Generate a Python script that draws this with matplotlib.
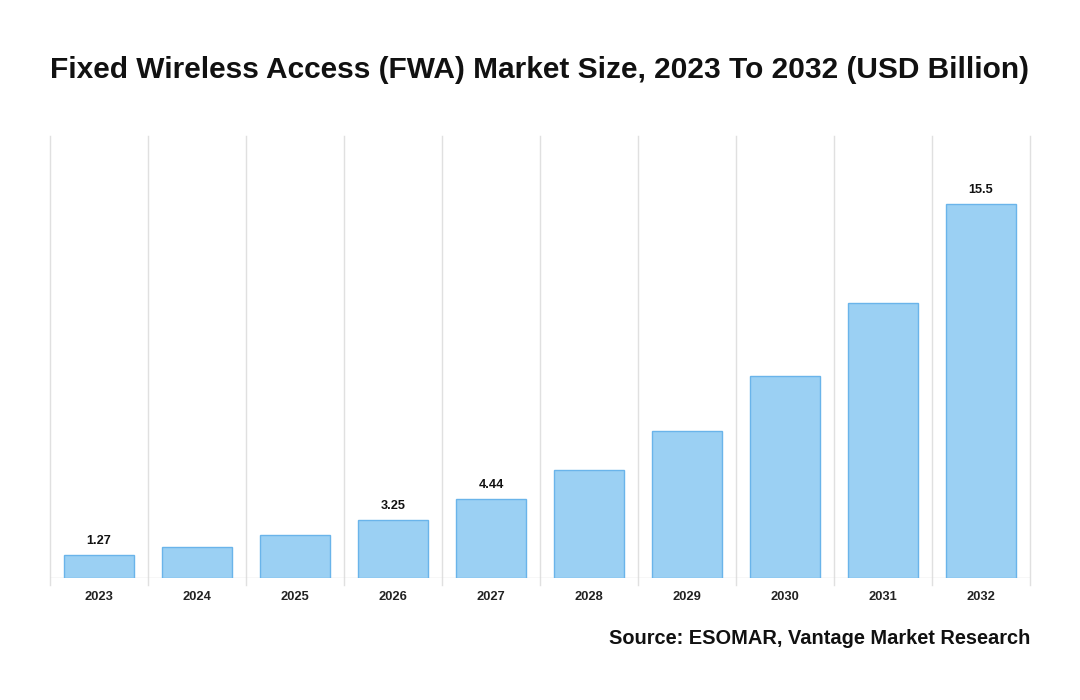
import matplotlib
matplotlib.use("Agg")
import matplotlib.pyplot as plt

years = ["2023", "2024", "2025", "2026", "2027", "2028", "2029", "2030", "2031", "2032"]
# bar heights
sizes = [1.27, 1.70, 2.39, 3.25, 4.44, 6.08, 8.30, 11.36, 15.50, 21.10]
# only some bars carry a value label in the original
value_labels = ["1.27", "", "", "3.25", "4.44", "", "", "", "", "15.5"]

plt.rcParams["font.family"] = ["Liberation Sans", "DejaVu Sans"]

fig = plt.figure(figsize=(10.8, 7), dpi=100)
ax = fig.add_axes([50 / 1080, (700 - 577.5) / 700, 980 / 1080, 441.5 / 700])

x = list(range(len(years)))
ax.bar(x, sizes, width=0.71, color="#9BD0F3", edgecolor="#6AB4EA", linewidth=1, zorder=3)

for xi, v, lab in zip(x, sizes, value_labels):
    if lab:
        ax.annotate(lab, (xi, v), xytext=(0, 6), textcoords="offset points",
                    ha="center", va="bottom", fontsize=9.2, fontweight="bold", color="#111111")

ax.set_xlim(-0.5, len(years) - 0.5)
ax.set_ylim(0, 24.95)

# vertical separators between categories
for b in range(len(years) + 1):
    ax.axvline(b - 0.5, ymin=-0.018, ymax=1, color="#e0e0e0", linewidth=1, zorder=1, clip_on=False)
ax.axhline(0, color="#d8d8d8", linewidth=1, zorder=2)

ax.set_xticks(x)
ax.set_xticklabels(years, fontsize=9.3, fontweight="bold", color="#222222")
ax.tick_params(axis="x", length=0, pad=9.5)
ax.set_yticks([])
for s in ax.spines.values():
    s.set_visible(False)

fig.text(540 / 1080, 1 - 70 / 700, "Fixed Wireless Access (FWA) Market Size, 2023 To 2032 (USD Billion)",
         ha="center", va="center", fontsize=21.5, fontweight="bold", color="#111111")
fig.text(1030 / 1080, 1 - 638 / 700, "Source: ESOMAR, Vantage Market Research",
         ha="right", va="center", fontsize=14.4, fontweight="bold", color="#111111")

fig.savefig("out.png", dpi=100)
